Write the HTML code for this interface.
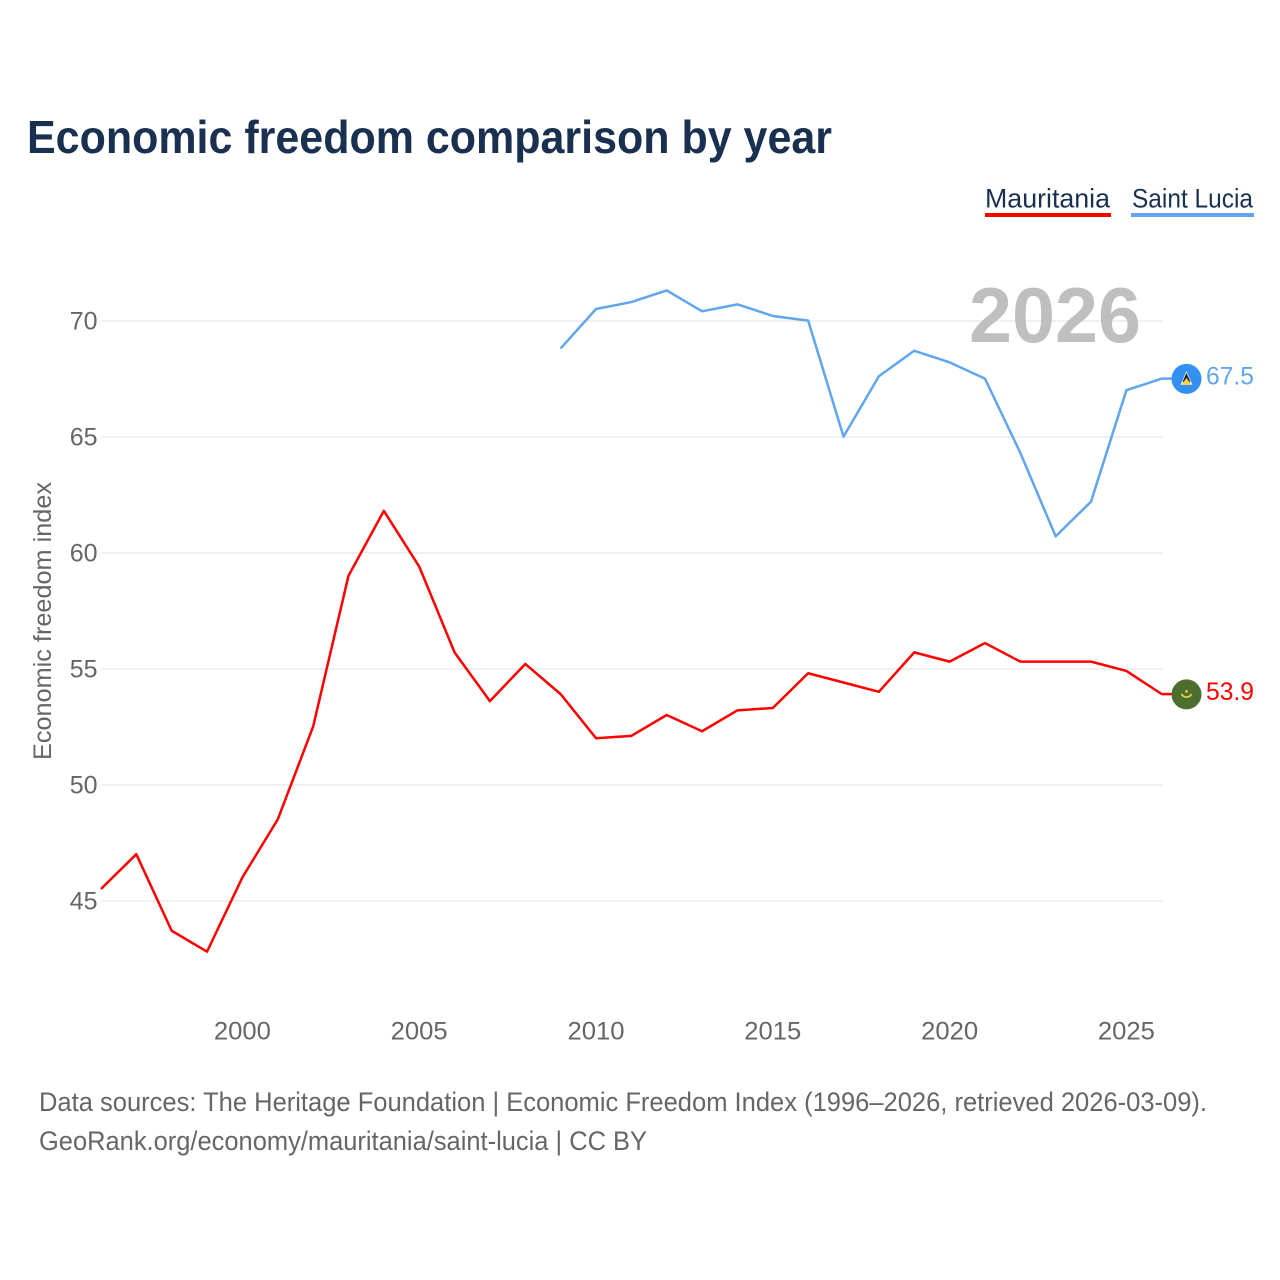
<!DOCTYPE html>
<html lang="en">
<head>
<meta charset="utf-8">
<title>Economic freedom comparison by year</title>
<style>
html,body{margin:0;padding:0;background:#fff;}
svg{display:block;font-family:"Liberation Sans",sans-serif;}
</style>
</head>
<body>
<svg id="chart" xmlns="http://www.w3.org/2000/svg" width="1280" height="1280" viewBox="0 0 1280 1280">
  <rect x="0" y="0" width="1280" height="1280" fill="#ffffff"/>
  <text x="27" y="153" font-size="46" font-weight="700" fill="#1a3050" textLength="805" lengthAdjust="spacingAndGlyphs">Economic freedom comparison by year</text>

  <g id="gridlines"></g>
  <g id="y-ticks"></g>
  <g id="x-ticks"></g>

  <text x="0" y="0" transform="translate(51,621) rotate(-90)" text-anchor="middle" font-size="25" fill="#666666" textLength="278" lengthAdjust="spacingAndGlyphs">Economic freedom index</text>

  <text x="1141" y="342" text-anchor="end" font-size="78" font-weight="700" fill="#bfbfbf" textLength="172" lengthAdjust="spacingAndGlyphs">2026</text>

  <g id="series"></g>

  <g>
    <text x="985" y="207.5" font-size="27" fill="#1a3050" textLength="125" lengthAdjust="spacingAndGlyphs">Mauritania</text>
    <rect x="985" y="213" width="126" height="4" fill="#ff0000"/>
  </g>
  <g>
    <text x="1132" y="207.5" font-size="27" fill="#1a3050" textLength="121" lengthAdjust="spacingAndGlyphs">Saint Lucia</text>
    <rect x="1131" y="213" width="123" height="4" fill="#60a5ee"/>
  </g>

  <g id="end-markers"></g>

  <text x="39" y="1111" font-size="27" fill="#666666" textLength="1168" lengthAdjust="spacingAndGlyphs">Data sources: The Heritage Foundation | Economic Freedom Index (1996–2026, retrieved 2026-03-09).</text>
  <text x="39" y="1150" font-size="27" fill="#666666" textLength="608" lengthAdjust="spacingAndGlyphs">GeoRank.org/economy/mauritania/saint-lucia | CC BY</text>
</svg>

<script>
const mauritaniaYears = [1996,1997,1998,1999,2000,2001,2002,2003,2004,2005,2006,2007,2008,2009,2010,2011,2012,2013,2014,2015,2016,2017,2018,2019,2020,2021,2022,2023,2024,2025,2026];
const mauritaniaValues = [45.5,47.0,43.7,42.8,46.0,48.5,52.5,59.0,61.8,59.4,55.7,53.6,55.2,53.9,52.0,52.1,53.0,52.3,53.2,53.3,54.8,54.4,54.0,55.7,55.3,56.1,55.3,55.3,55.3,54.9,53.9];
const saintLuciaYears = [2009,2010,2011,2012,2013,2014,2015,2016,2017,2018,2019,2020,2021,2022,2023,2024,2025,2026];
const saintLuciaValues = [68.8,70.5,70.8,71.3,70.4,70.7,70.2,70.0,65.0,67.6,68.7,68.2,67.5,64.3,60.7,62.2,67.0,67.5];
const yTickValues = [45,50,55,60,65,70];
const xTickValues = [2000,2005,2010,2015,2020,2025];

const NS = 'http://www.w3.org/2000/svg';
function xScale(year) { return 242.4 + (year - 2000) * 35.36; }
function yScale(value) { return 320.6 + (70 - value) * 23.2; }
function make(tag, attrs, parent) {
  const el = document.createElementNS(NS, tag);
  for (const k in attrs) el.setAttribute(k, attrs[k]);
  parent.appendChild(el);
  return el;
}

const gridG = document.getElementById('gridlines');
const yG = document.getElementById('y-ticks');
const xG = document.getElementById('x-ticks');
const seriesG = document.getElementById('series');
const markerG = document.getElementById('end-markers');

yTickValues.forEach(function (v) {
  const line = make('line', {x1: xScale(1996), x2: 1162, y1: yScale(v) + 0.4, y2: yScale(v) + 0.4, stroke: '#ebebeb', 'stroke-width': 1.6}, gridG);
  
  
  const label = make('text', {x: 97.5, y: yScale(v) + 9, 'text-anchor': 'end', 'font-size': 25, fill: '#666666'}, yG);
  label.textContent = String(v);
  
  
});

xTickValues.forEach(function (year) {
  const label = make('text', {x: xScale(year), y: 1039.5, 'text-anchor': 'middle', 'font-size': 25, textLength: 57, lengthAdjust: 'spacingAndGlyphs', fill: '#666666'}, xG);
  label.textContent = String(year);
  
  
});

function pointsFor(years, values) {
  return years.map(function (y, i) { return xScale(y).toFixed(2) + ',' + yScale(values[i]).toFixed(2); }).join(' ');
}

const mauritaniaLine = make('polyline', {points: pointsFor(mauritaniaYears, mauritaniaValues), fill: 'none', stroke: '#ff0000', 'stroke-width': 2.5, 'stroke-linejoin': 'round'}, seriesG);



const saintLuciaLine = make('polyline', {points: pointsFor(saintLuciaYears, saintLuciaValues), fill: 'none', stroke: '#60a5ee', 'stroke-width': 2.5, 'stroke-linejoin': 'round'}, seriesG);



function drawEnd(years, values, color, flagColor, slug) {
  const lastV = values[values.length - 1];
  const lastY = years[years.length - 1];
  const px = xScale(lastY);
  const py = yScale(lastV);
  const stub = make('line', {x1: px, x2: px + 10, y1: py, y2: py, stroke: color, 'stroke-width': 2.5}, markerG);
  
  
  const flag = make('circle', {cx: 1186.5, cy: py + 0.3, r: 15, fill: flagColor}, markerG);
  
  
  const label = make('text', {x: 1206, y: py + 6, 'font-size': 25, fill: color}, markerG);
  label.textContent = lastV.toFixed(1);
  label.setAttribute('textLength', '48');
  label.setAttribute('lengthAdjust', 'spacingAndGlyphs');
  
  
  return py;
}

const mauritaniaEndY = drawEnd(mauritaniaYears, mauritaniaValues, '#ff0000', '#4c6e2e', 'mauritania');
const saintLuciaEndY = drawEnd(saintLuciaYears, saintLuciaValues, '#60a5ee', '#3390f0', 'saint-lucia');

// Saint Lucia flag emblem
const cy1 = saintLuciaEndY + 0.3;
const slWhite = make('polygon', {points: '1186.5,' + (cy1 - 8) + ' 1180.5,' + (cy1 + 6) + ' 1192.5,' + (cy1 + 6), fill: '#f2f2f2'}, markerG);


const slBlack = make('polygon', {points: '1186.5,' + (cy1 - 6) + ' 1182.5,' + (cy1 + 3) + ' 1190.5,' + (cy1 + 3), fill: '#222222'}, markerG);


const slGold = make('polygon', {points: '1186.5,' + (cy1 - 1) + ' 1181.5,' + (cy1 + 6) + ' 1191.5,' + (cy1 + 6), fill: '#f5cf4a'}, markerG);



// Mauritania flag emblem
const cy2 = mauritaniaEndY + 0.3;
const mrCrescent = make('path', {d: 'M1181.5,' + (cy2 - 0.5) + ' A5.5,5.5 0 0 0 1191.5,' + (cy2 - 0.5), fill: 'none', stroke: '#e6cf3e', 'stroke-width': 1.8}, markerG);


const mrStar = make('circle', {cx: 1186.5, cy: cy2 - 3, r: 1.4, fill: '#e6cf3e'}, markerG);


</script>
</body>
</html>
